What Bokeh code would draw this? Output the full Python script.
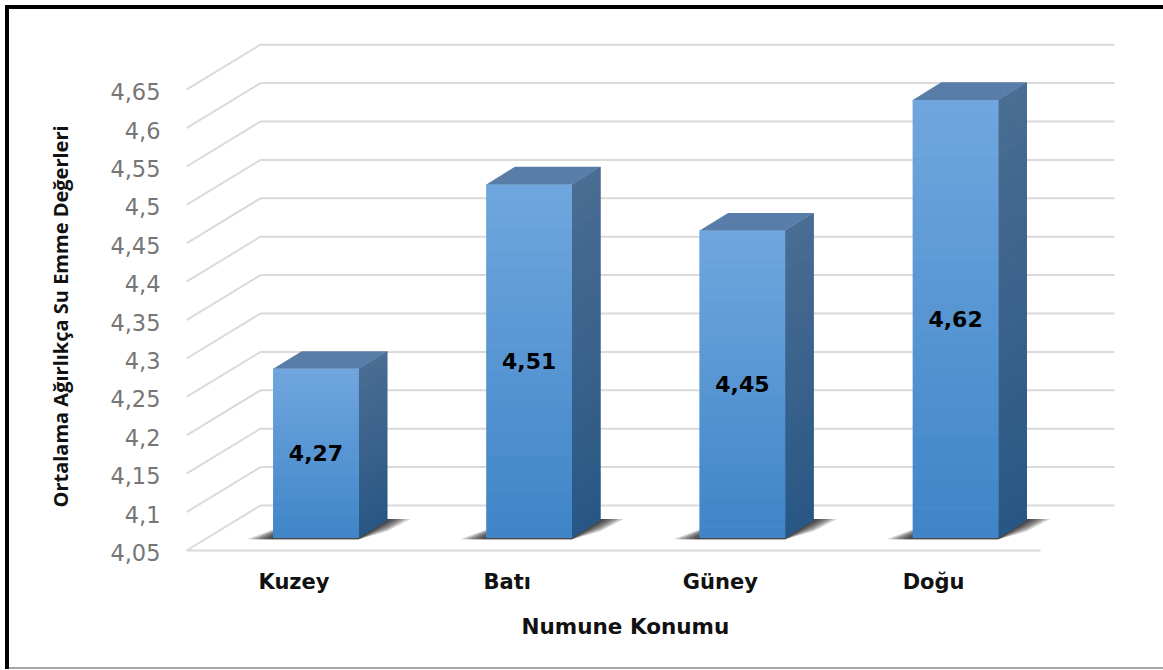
from bokeh.plotting import figure
from bokeh.embed import file_html
from bokeh.resources import INLINE
from bokeh.models import Range1d, FixedTicker, Title
from bokeh.core.properties import value

categories = ["Kuzey", "Batı", "Güney", "Doğu"]
values = [4.27, 4.51, 4.45, 4.62]
value_labels = ["4,27", "4,51", "4,45", "4,62"]
y_ticks = [4.05, 4.1, 4.15, 4.2, 4.25, 4.3, 4.35, 4.4, 4.45, 4.5, 4.55, 4.6, 4.65]
y_tick_labels = ["4,05", "4,1", "4,15", "4,2", "4,25", "4,3", "4,35", "4,4", "4,45", "4,5", "4,55", "4,6", "4,65"]
x_title = "Numune Konumu"
y_title = "Ortalama Ağırlıkça Su Emme Değerleri"

# The canvas starts at page pixel 9; the picture frame around it is a CSS shadow
OFF = 9
W, H = 1163 - OFF, 667 - OFF
L, R, T, B = 186, 1120, 38, 552      # plot frame edges, in page pixels
PX_PER_VAL = 768.0
PX_PER_CAT = 213.2
X0_PX = 293.5                        # pixel of the first category label
BASE = 4.05

def xpx(dx):  # pixel distance -> x data distance
    return dx / PX_PER_CAT

def ypx(dy):  # pixel distance (upward) -> y data distance
    return dy / PX_PER_VAL

p = figure(width=W, height=H, output_backend="svg", toolbar_location=None,
           x_range=Range1d((L - X0_PX) / PX_PER_CAT, (R - X0_PX) / PX_PER_CAT),
           y_range=Range1d(BASE, BASE + (B - T) / PX_PER_VAL),
           min_border_left=L - OFF, min_border_right=W + OFF - R,
           min_border_top=T - OFF, min_border_bottom=H + OFF - B,
           background_fill_color="white", border_fill_color="white", outline_line_color=None)
p.styles = {"position": "absolute", "left": "9px", "top": "9px",
            "box-shadow": "0 2px 0 0 #a6a6a6, 0 -4px 0 0 black, -4px -4px 0 0 black, -4px 2px 0 0 black"}
p.grid.visible = False

# axes
p.yaxis.ticker = FixedTicker(ticks=y_ticks)
p.yaxis.major_label_overrides = dict(zip(y_ticks, y_tick_labels))
p.yaxis.axis_line_color = None
p.yaxis.major_tick_line_color = None
p.yaxis.minor_tick_line_color = None
p.yaxis.major_tick_in = 0
p.yaxis.major_tick_out = 0
p.yaxis.major_label_standoff = 26
p.yaxis.major_label_text_font = "DejaVu Sans"
p.yaxis.major_label_text_font_size = "22.5px"
p.yaxis.major_label_text_color = "#767676"

p.xaxis.ticker = FixedTicker(ticks=list(range(len(categories))))
p.xaxis.major_label_overrides = dict(enumerate(categories))
p.xaxis.axis_line_color = None
p.xaxis.major_tick_line_color = None
p.xaxis.minor_tick_line_color = None
p.xaxis.major_tick_in = 0
p.xaxis.major_tick_out = 0
p.xaxis.major_label_standoff = 17
p.xaxis.major_label_text_font = "DejaVu Sans"
p.xaxis.major_label_text_font_style = "bold"
p.xaxis.major_label_text_font_size = "21px"
p.xaxis.major_label_text_color = "#111111"

# axis titles sit off-centre in the reference, so they are side titles with an offset
p.add_layout(Title(text=x_title, align="left", offset=521 - L, standoff=31, text_font="DejaVu Sans",
                   text_font_style="bold", text_font_size="21.5px", text_color="#111111"), "below")
p.add_layout(Title(text=y_title, align="left", offset=B - 507, standoff=68, text_font="Open Sans",
                   text_font_style="bold", text_font_size="20px", text_color="#111111"), "left")

# 3D box gridlines
GRID_DROP = ypx(2)          # tick label sits slightly below its line
DEPTH_X, DEPTH_Y = xpx(74), ypx(45)
WALL_LEFT = xpx(186 - X0_PX)
WALL_W = xpx(1040 - 186)
gx, gy = [], []
for t in y_ticks:
    gx.append([WALL_LEFT, WALL_LEFT + DEPTH_X, WALL_LEFT + DEPTH_X + WALL_W])
    gy.append([t + GRID_DROP, t + GRID_DROP + DEPTH_Y, t + GRID_DROP + DEPTH_Y])
p.multi_line(gx, gy, line_color="#dadada", line_width=2)
p.line([WALL_LEFT, WALL_LEFT + WALL_W], [BASE + GRID_DROP] * 2, line_color="#dadada", line_width=2)

# bars
def mix(c1, c2, t):
    return "#%02x%02x%02x" % tuple(round(a + (b - a) * t) for a, b in zip(c1, c2))

FRONT_TOP, FRONT_BOT = (112, 166, 222), (63, 133, 200)
SIDE_TOP, SIDE_BOT = (74, 109, 147), (41, 87, 133)
TOP_FACE = "#577da8"
BAR_OFF = xpx(272.7 - X0_PX)
BAR_W = xpx(85.6)
BAR_DX, BAR_DY = xpx(28.5), ypx(17.7)
BAR_BASE = BASE + ypx(552 - 537.3)
N_BANDS = 30

for i, v in enumerate(values):
    left = i + BAR_OFF
    right = left + BAR_W
    base = BAR_BASE
    top = base + (v - BASE)

    # floor shadow: stacked translucent polygons, fading outward
    for t, a in [(1.0, 0.22), (0.8, 0.28), (0.6, 0.28), (0.4, 0.28), (0.2, 0.28)]:
        p.patch([left - xpx(26) * t, right, right + BAR_DX, right + BAR_DX + xpx(23) * t, left + BAR_DX],
                [base - ypx(1.5), base - ypx(1.5), base + BAR_DY - ypx(11) * t, base + BAR_DY + ypx(1), base + BAR_DY + ypx(1)],
                fill_color="#1a1a1a", fill_alpha=a, line_color=None)

    # underlays keep the seams between gradient bands from showing
    p.patch([right, right + BAR_DX, right + BAR_DX, right],
            [base, base + BAR_DY, top + BAR_DY, top], fill_color=mix(SIDE_BOT, SIDE_TOP, 0.5), line_color=None)
    p.quad(left=left, right=right, bottom=base, top=top, fill_color=mix(FRONT_BOT, FRONT_TOP, 0.5), line_color=None)

    # side and front faces as thin bands giving the vertical gradient
    h = (top - base) / N_BANDS
    for k in range(N_BANDS):
        t = k / (N_BANDS - 1)
        y0, y1 = base + h * k, base + h * (k + 1)
        p.patch([right, right + BAR_DX, right + BAR_DX, right],
                [y0, y0 + BAR_DY, y1 + BAR_DY, y1], fill_color=mix(SIDE_BOT, SIDE_TOP, t), line_color=None)
        p.quad(left=left, right=right, bottom=y0, top=y1, fill_color=mix(FRONT_BOT, FRONT_TOP, t), line_color=None)

    # top face
    p.patch([left, right, right + BAR_DX, left + BAR_DX],
            [top, top, top + BAR_DY, top + BAR_DY], fill_color=TOP_FACE, line_color=None)

    # value label
    p.text([(left + right) / 2], [(base + top) / 2], text=[value_labels[i]],
           text_align="center", text_baseline="middle", text_color="#000000",
           text_font=value("DejaVu Sans"), text_font_style="bold", text_font_size="22px")

open("out.html", "w").write(file_html(p, INLINE))
